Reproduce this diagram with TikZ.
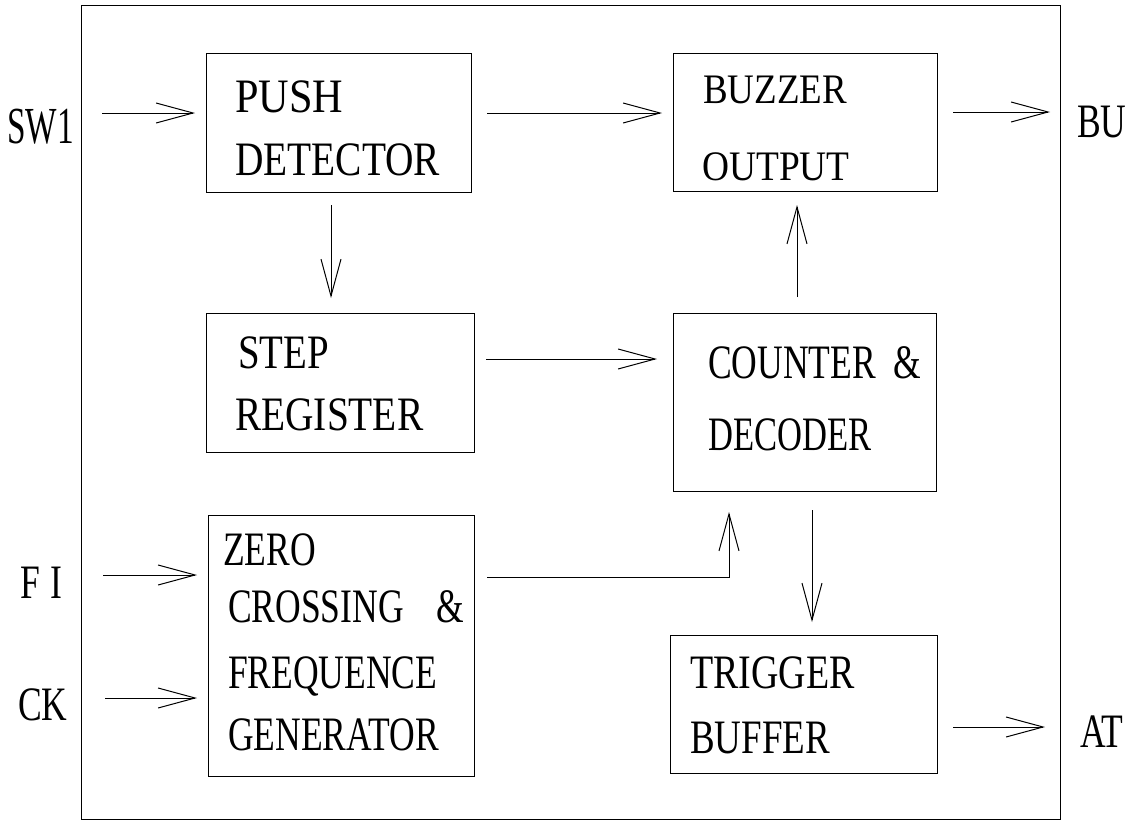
\documentclass[tikz,border=0pt]{standalone}
\usepackage{fontspec}
\usepackage{graphicx}
\setmainfont{Liberation Serif}[Ligatures=TeX]
\newcommand{\cnd}[2][0.74]{\scalebox{#1}[1]{#2}}
\usetikzlibrary{arrows.meta}
\begin{document}
\begin{tikzpicture}[x=1pt,y=-1pt,
  blk/.style={draw,line width=1pt,inner sep=0pt},
  txt/.style={anchor=base west,inner sep=0pt,font=\rmfamily\fontsize{48}{48}\selectfont},
  sig/.style={line width=1pt,-{Straight Barb[length=37pt,width=20pt,line width=1pt]}}]
\useasboundingbox (0,0) rectangle (1125,822);
% frame
\node[blk,minimum width=979pt,minimum height=814pt] (frame) at (570.5,412) {};
% blocks
\node[blk,minimum width=265pt,minimum height=139pt] (push) at (338.5,122.5) {};
\node[blk,minimum width=264pt,minimum height=138pt] (buzz) at (805,122) {};
\node[blk,minimum width=268pt,minimum height=139pt] (step) at (340,382.5) {};
\node[blk,minimum width=263pt,minimum height=178pt] (count) at (804.5,402) {};
\node[blk,minimum width=266pt,minimum height=261pt] (zero) at (341,645.5) {};
\node[blk,minimum width=267pt,minimum height=138pt] (trig) at (803.5,704) {};
% block texts
\node[txt] (t1) at (235,112) {\cnd[0.88]{PUSH}};
\node[txt] (t2) at (235,175) {\cnd[0.82]{DETECTOR}};
\node[txt,font=\rmfamily\fontsize{42}{42}\selectfont] (t3) at (703,103) {\cnd[0.88]{BUZZER}};
\node[txt,font=\rmfamily\fontsize{42}{42}\selectfont] (t4) at (702,180) {\cnd[0.89]{OUTPUT}};
\node[txt] (t5) at (238,368) {\cnd[0.81]{STEP}};
\node[txt] (t6) at (235,430) {\cnd[0.82]{REGISTER}};
\node[txt] (t7) at (708,378) {\cnd{COUNTER\hspace{24pt}\&}};
\node[txt] (t8) at (708,450) {\cnd[0.72]{DECODER}};
\node[txt] (t9) at (223,565) {\cnd{ZERO}};
\node[txt] (t10) at (228,622) {\cnd{CROSSING\hspace{44pt}\&}};
\node[txt] (t11) at (228,688) {\cnd{FREQUENCE}};
\node[txt] (t12) at (228,750) {\cnd{GENERATOR}};
\node[txt] (t13) at (690,688) {\cnd[0.79]{TRIGGER}};
\node[txt] (t14) at (690,753) {\cnd[0.77]{BUFFER}};
% outside labels
\node[txt,font=\rmfamily\fontsize{52}{52}\selectfont] (sw) at (7,143) {\cnd[0.64]{SW1}};
\node[txt] (fi) at (20,598) {\cnd{F\hspace{14pt}I}};
\node[txt] (ck) at (18,720) {\cnd{CK}};
\node[txt] (bu) at (1077,137) {\cnd{BU}};
\node[txt] (at) at (1080,747) {\cnd{AT}};
% connector end points
\coordinate (a1) at (102,113); \coordinate (a2) at (195,113);
\coordinate (b1) at (487,113); \coordinate (b2) at (662,113);
\coordinate (c1) at (953,112); \coordinate (c2) at (1050,112);
\coordinate (d1) at (331,205); \coordinate (d2) at (331,298);
\coordinate (e1) at (486,359); \coordinate (e2) at (657,359);
\coordinate (f1) at (797,297); \coordinate (f2) at (797,205);
\coordinate (g1) at (487,577); \coordinate (g2) at (729,577); \coordinate (g3) at (729,512);
\coordinate (h1) at (812,510); \coordinate (h2) at (812,622);
\coordinate (i1) at (953,727); \coordinate (i2) at (1045,727);
\coordinate (j1) at (103,575); \coordinate (j2) at (197,575);
\coordinate (k1) at (105,698); \coordinate (k2) at (197,698);
% connectors
\draw[sig] (a1) -- (a2);
\draw[sig] (b1) -- (b2);
\draw[sig] (c1) -- (c2);
\draw[sig] (d1) -- (d2);
\draw[sig] (e1) -- (e2);
\draw[sig] (f1) -- (f2);
\draw[sig] (g1) -- (g2) -- (g3);
\draw[sig] (h1) -- (h2);
\draw[sig] (i1) -- (i2);
\draw[sig] (j1) -- (j2);
\draw[sig] (k1) -- (k2);
\end{tikzpicture}
\end{document}
